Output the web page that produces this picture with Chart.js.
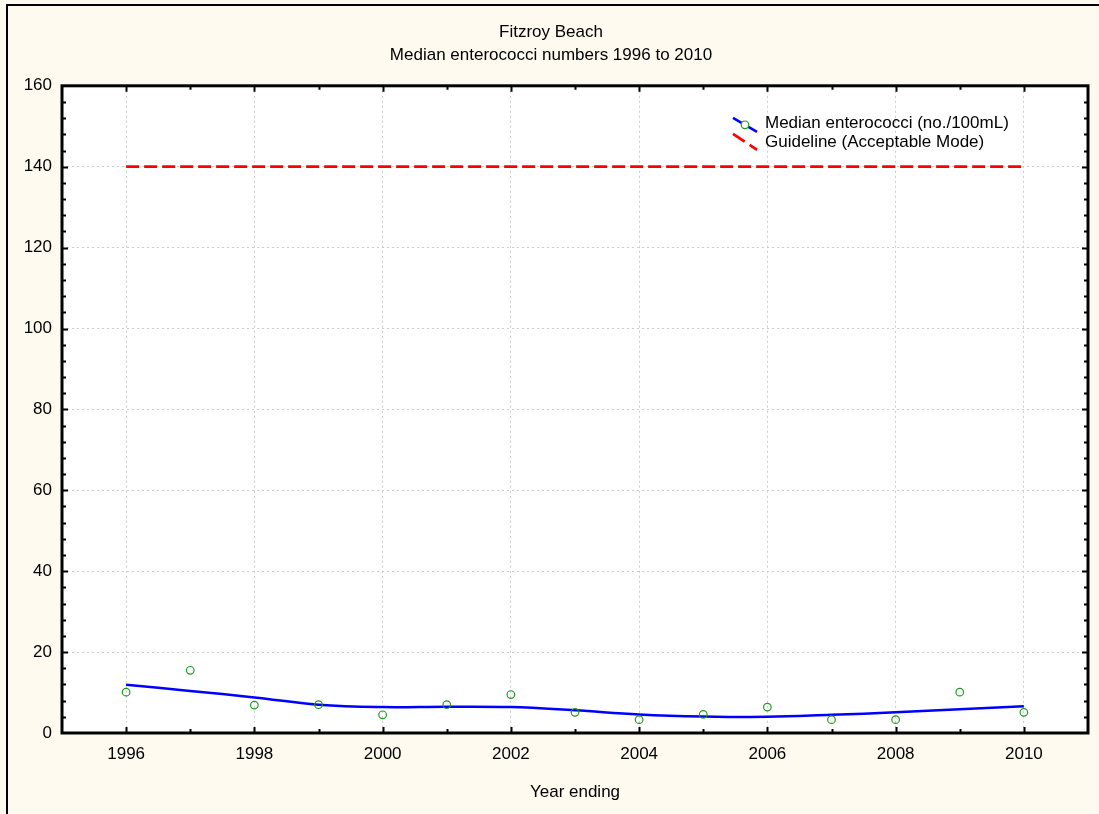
<!DOCTYPE html>
<html>
<head>
<meta charset="utf-8">
<title>Fitzroy Beach</title>
<script src="https://cdn.jsdelivr.net/npm/chart.js@4.4.1/dist/chart.umd.min.js"></script>
<style>
  body { margin: 0; background: #fffaf0; }
  canvas { display: block; }
</style>
</head>
<body>
<canvas id="beach-chart" width="1099" height="814"></canvas>
<script>
// values
const years = [1996, 1997, 1998, 1999, 2000, 2001, 2002, 2003, 2004, 2005, 2006, 2007, 2008, 2009, 2010];
const medianValues = [10.1, 15.5, 6.9, 7.0, 4.5, 7.0, 9.5, 5.1, 3.3, 4.6, 6.4, 3.3, 3.3, 10.1, 5.1];
const trendValues = [11.9, 10.4, 8.8, 7.0, 6.4, 6.5, 6.4, 5.6, 4.6, 4.1, 4.0, 4.5, 5.1, 5.9, 6.6];
const guidelineYears = [1996, 2010];
const guidelineValues = [140, 140];
const xTickLabels = [1996, 1998, 2000, 2002, 2004, 2006, 2008, 2010];
const yTickLabels = [0, 20, 40, 60, 80, 100, 120, 140, 160];
const legendLabels = ['Median enterococci (no./100mL)', 'Guideline (Acceptable Mode)'];

const toPoints = (xs, ys) => xs.map((x, i) => ({ x: x, y: ys[i] }));

Chart.defaults.font.family = "'Liberation Sans', Arial, sans-serif";
Chart.defaults.font.size = 17;
Chart.defaults.color = '#000';

const GREEN = '#1f9c1f';
const BLUE = '#0000ff';
const RED = '#ff0000';

// cream page, white plot area, outer frame line
const backdrop = {
    id: 'backdrop',
    beforeDraw(chart) {
        const { ctx, chartArea: a } = chart;
        ctx.save();
        ctx.fillStyle = '#fffaf0';
        ctx.fillRect(0, 0, chart.width, chart.height);
        ctx.fillStyle = '#000';
        ctx.fillRect(6, 4, 2, chart.height);
        ctx.fillRect(6, 4, chart.width, 2);
        ctx.fillStyle = '#fff';
        ctx.fillRect(a.left, a.top, a.right - a.left, a.bottom - a.top);
        ctx.restore();
    }
};

// box around the plot with inward tick marks
const frame = {
    id: 'frame',
    afterDraw(chart) {
        const { ctx, chartArea: a, scales } = chart;
        const xs = scales.x, ys = scales.y;
        ctx.save();
        ctx.strokeStyle = '#000';
        ctx.lineWidth = 2;
        ctx.beginPath();
        for (let yr = 1996; yr <= 2010; yr++) {
            const px = Math.round(xs.getPixelForValue(yr)) + 0.5;
            const len = yr % 2 === 0 ? 6 : 4;
            ctx.moveTo(px, a.bottom); ctx.lineTo(px, a.bottom - len);
            ctx.moveTo(px, a.top); ctx.lineTo(px, a.top + len);
        }
        for (let v = 4; v < 160; v += 4) {
            const py = Math.round(ys.getPixelForValue(v)) + 0.5;
            const len = v % 20 === 0 ? 6 : 4;
            ctx.moveTo(a.left, py); ctx.lineTo(a.left + len, py);
            ctx.moveTo(a.right, py); ctx.lineTo(a.right - len, py);
        }
        ctx.stroke();
        ctx.lineWidth = 3;
        ctx.strokeRect(a.left, a.top, a.right - a.left, a.bottom - a.top);
        ctx.restore();
    }
};

// legend box in the upper right of the plot
const plotLegend = {
    id: 'plotLegend',
    afterDraw(chart) {
        const { ctx, chartArea: a } = chart;
        const x0 = a.right - 355;
        const y0 = a.top + 32;
        ctx.save();
        ctx.lineWidth = 2.5;
        ctx.strokeStyle = BLUE;
        ctx.beginPath();
        ctx.moveTo(x0, y0); ctx.lineTo(x0 + 24, y0 + 14);
        ctx.stroke();
        ctx.fillStyle = '#fff';
        ctx.strokeStyle = GREEN;
        ctx.lineWidth = 1.2;
        ctx.beginPath();
        ctx.arc(x0 + 12, y0 + 7, 3.8, 0, Math.PI * 2);
        ctx.fill();
        ctx.stroke();
        ctx.strokeStyle = RED;
        ctx.lineWidth = 2.8;
        ctx.setLineDash([14, 6]);
        ctx.beginPath();
        ctx.moveTo(x0, y0 + 16); ctx.lineTo(x0 + 24, y0 + 32);
        ctx.stroke();
        ctx.setLineDash([]);
        ctx.fillStyle = '#000';
        ctx.font = "17px 'Liberation Sans', Arial, sans-serif";
        ctx.textBaseline = 'middle';
        ctx.fillText(legendLabels[0], x0 + 32, y0 + 6);
        ctx.fillText(legendLabels[1], x0 + 32, y0 + 25);
        ctx.restore();
    }
};

const gridStyle = {
    color: '#cccccc',
    lineWidth: 1,
    drawTicks: false,
    tickLength: 0
};

const ctx = document.getElementById('beach-chart').getContext('2d');
const chart = new Chart(ctx, {
    type: 'scatter',
    data: {
        datasets: [
            {
                label: legendLabels[0],
                data: toPoints(years, medianValues),
                showLine: false,
                pointStyle: 'circle',
                pointRadius: 3.8,
                pointBorderWidth: 1.2,
                pointBorderColor: GREEN,
                pointBackgroundColor: 'rgba(0,0,0,0)'
            },
            {
                label: 'trend',
                data: toPoints(years, trendValues),
                showLine: true,
                borderColor: BLUE,
                borderWidth: 2.5,
                pointRadius: 0,
                tension: 0.4
            },
            {
                label: legendLabels[1],
                data: toPoints(guidelineYears, guidelineValues),
                showLine: true,
                borderColor: RED,
                borderWidth: 2.8,
                borderDash: [13, 5],
                pointRadius: 0
            }
        ]
    },
    options: {
        responsive: false,
        animation: false,
        layout: { padding: { left: 14, right: 11, top: 0, bottom: 0 } },
        plugins: {
            legend: { display: false },
            tooltip: { enabled: false },
            title: {
                display: true,
                text: 'Fitzroy Beach',
                color: '#000',
                font: { size: 17, weight: 'normal' },
                padding: { top: 22, bottom: 0 }
            },
            subtitle: {
                display: true,
                text: 'Median enterococci numbers 1996 to 2010',
                color: '#000',
                font: { size: 17, weight: 'normal' },
                padding: { top: 3, bottom: 20 }
            }
        },
        scales: {
            x: {
                type: 'linear',
                min: 1995,
                max: 2011,
                afterBuildTicks: (scale) => { scale.ticks = xTickLabels.map(v => ({ value: v })); },
                afterFit: (scale) => { scale.height = 81; },
                grid: gridStyle,
                border: { display: false, dash: [2, 3] },
                ticks: {
                    padding: 11,
                    maxRotation: 0,
                    callback: (v) => String(v)
                },
                title: {
                    display: true,
                    text: 'Year ending',
                    padding: { top: 0, bottom: 11 }
                }
            },
            y: {
                min: 0,
                max: 160,
                afterBuildTicks: (scale) => { scale.ticks = yTickLabels.map(v => ({ value: v })); },
                afterFit: (scale) => { scale.width = 48; },
                grid: gridStyle,
                border: { display: false, dash: [2, 3] },
                ticks: {
                    padding: 10,
                    callback: (v) => String(v)
                }
            }
        }
    },
    plugins: [backdrop, frame, plotLegend]
});
</script>
</body>
</html>
